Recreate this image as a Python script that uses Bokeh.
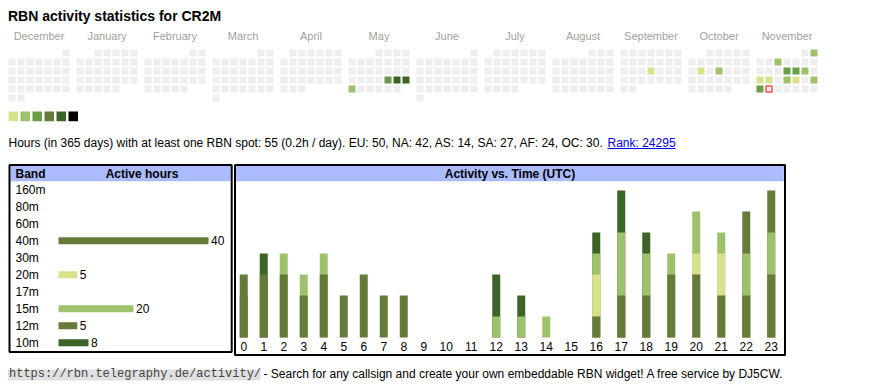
import datetime as dt
from bokeh.plotting import figure
from bokeh.models import Range1d, ColumnDataSource
from bokeh.layouts import column, row
from bokeh.embed import file_html
from bokeh.resources import INLINE
from bokeh.core.properties import value

SANS = value("Liberation Sans")
MONO = value("Liberation Mono")

# ------------------------------------------------------------------ data
callsign = "CR2M"

month_names = ["December", "January", "February", "March", "April", "May",
               "June", "July", "August", "September", "October", "November"]
month_years = [2024, 2025, 2025, 2025, 2025, 2025, 2025, 2025, 2025, 2025, 2025, 2025]
month_numbers = [12, 1, 2, 3, 4, 5, 6, 7, 8, 9, 10, 11]

active_dates = ["2025-05-23", "2025-05-24", "2025-05-25", "2025-05-26",
                "2025-09-18", "2025-10-14", "2025-10-16",
                "2025-11-02", "2025-11-05", "2025-11-13", "2025-11-14", "2025-11-15",
                "2025-11-17", "2025-11-18", "2025-11-20", "2025-11-21", "2025-11-23",
                "2025-11-24"]
active_levels = [3, 5, 5, 2,
                 1, 1, 2,
                 2, 2, 3, 3, 2,
                 1, 1, 2, 1, 2,
                 3]
today = "2025-11-25"

level_colors = ["#d9e18a", "#9dc26b", "#6a9f47", "#647b3a", "#3b6426", "#000000"]
empty_color = "#eeeeee"

stat_days = 365
stat_hours = 55
stat_per_day = 0.2
continents = ["EU", "NA", "AS", "SA", "AF", "OC"]
continent_hours = [50, 42, 14, 27, 24, 30]
rank = 24295

bands = ["160m", "80m", "60m", "40m", "30m", "20m", "17m", "15m", "12m", "10m"]
band_hours = [0, 0, 0, 40, 0, 5, 0, 20, 5, 8]
band_colors = ["#d9e18a", "#9dc26b", "#6a9f47", "#647b3a", "#3b6426",
               "#d9e18a", "#6a9f47", "#9dc26b", "#647b3a", "#3b6426"]

hours = [0, 1, 2, 3, 4, 5, 6, 7, 8, 9, 10, 11, 12, 13, 14, 15, 16, 17, 18, 19, 20, 21, 22, 23]
h_160m = [0, 0, 0, 0, 0, 0, 0, 0, 0, 0, 0, 0, 0, 0, 0, 0, 0, 0, 0, 0, 0, 0, 0, 0]
h_80m  = [0, 0, 0, 0, 0, 0, 0, 0, 0, 0, 0, 0, 0, 0, 0, 0, 0, 0, 0, 0, 0, 0, 0, 0]
h_60m  = [0, 0, 0, 0, 0, 0, 0, 0, 0, 0, 0, 0, 0, 0, 0, 0, 0, 0, 0, 0, 0, 0, 0, 0]
h_40m  = [2, 3, 3, 2, 3, 2, 3, 2, 2, 0, 0, 0, 0, 0, 0, 0, 1, 2, 2, 3, 3, 2, 2, 3]
h_30m  = [0, 0, 0, 0, 0, 0, 0, 0, 0, 0, 0, 0, 0, 0, 0, 0, 0, 0, 0, 0, 0, 0, 0, 0]
h_20m  = [0, 0, 0, 0, 0, 0, 0, 0, 0, 0, 0, 0, 0, 0, 0, 0, 2, 0, 0, 0, 1, 2, 0, 0]
h_17m  = [0, 0, 0, 0, 0, 0, 0, 0, 0, 0, 0, 0, 0, 0, 0, 0, 0, 0, 0, 0, 0, 0, 0, 0]
h_15m  = [0, 0, 1, 1, 1, 0, 0, 0, 0, 0, 0, 0, 1, 1, 1, 0, 1, 3, 2, 1, 2, 1, 2, 2]
h_12m  = [1, 0, 0, 0, 0, 0, 0, 0, 0, 0, 0, 0, 0, 0, 0, 0, 0, 0, 0, 0, 0, 0, 2, 2]
h_10m  = [0, 1, 0, 0, 0, 0, 0, 0, 0, 0, 0, 0, 2, 1, 0, 0, 1, 2, 1, 0, 0, 0, 0, 0]

footer_url = "https://rbn.telegraphy.de/activity/"
footer_text = "- Search for any callsign and create your own embeddable RBN widget! A free service by DJ5CW."

# ------------------------------------------------------------------ helpers
def blank(w, h, xr, yr):
    p = figure(width=w, height=h, x_range=xr, y_range=yr, output_backend="svg",
               toolbar_location=None, x_axis_type=None, y_axis_type=None,
               min_border=0)
    p.outline_line_color = None
    p.background_fill_color = "white"
    p.border_fill_color = "white"
    return p

MID = 0.35  # em-box middle above the alphabetic baseline (fraction of font size)

def txt(p, x, base_px, s, size=12, color="black", align="left", style="normal",
        font=SANS, ymap=lambda v: v):
    """Place a text with its alphabetic baseline at page-y base_px."""
    p.text(x=[x], y=[ymap(base_px - MID * size)], text=[s], text_font=font,
           text_font_size=f"{size}px", text_color=color, text_align=align,
           text_baseline="middle", text_font_style=style)

HEADER_BLUE = "#aabbff"
PAGE_W = 862
TOP_H = 163

# ------------------------------------------------------------------ top: title + calendar
top = blank(PAGE_W, TOP_H, Range1d(0, PAGE_W), Range1d(TOP_H, 0))
txt(top, 7.5, 20.7, f"RBN activity statistics for {callsign}", size=14, style="bold")

CELL, PITCH, MONTH_PITCH, CAL_X, CAL_Y = 7, 9, 68, 8, 49
level_of = {d: l for d, l in zip(active_dates, active_levels)}
cx, cy, cc = [], [], []
today_xy = None
for m, (yy, mm) in enumerate(zip(month_years, month_numbers)):
    first = dt.date(yy, mm, 1)
    nxt = dt.date(yy + (mm == 12), mm % 12 + 1, 1)
    d = first
    while d < nxt:
        r = (d.day - 1 + first.weekday()) // 7
        x = CAL_X + MONTH_PITCH * m + PITCH * d.weekday() + CELL / 2
        y = CAL_Y + PITCH * r + CELL / 2
        key = d.isoformat()
        cx.append(x); cy.append(y)
        cc.append(level_colors[level_of[key] - 1] if key in level_of else empty_color)
        if key == today:
            today_xy = (x, y)
        d += dt.timedelta(days=1)
    txt(top, CAL_X + MONTH_PITCH * m + (6 * PITCH + CELL) / 2, 39.2, month_names[m],
        size=11, color="#9f9f9f", align="center")
top.rect(x=cx, y=cy, width=CELL, height=CELL, fill_color=cc, line_color=None)
if today_xy:
    top.rect(x=[today_xy[0]], y=[today_xy[1]], width=CELL - 1, height=CELL - 1,
             fill_color=None, line_color="#ff0000", line_width=1)

# legend swatches
nl = len(level_colors)
top.quad(left=[8 + 12 * k for k in range(nl)], right=[8 + 12 * k + 9.5 for k in range(nl)],
         top=[111] * nl, bottom=[120.7] * nl, fill_color=level_colors, line_color=None)

stats = (f"Hours (in {stat_days} days) with at least one RBN spot: {stat_hours} "
         f"({stat_per_day}h / day). "
         + ", ".join(f"{c}: {v}" for c, v in zip(continents, continent_hours)) + ".")
txt(top, 8, 146.5, stats)
LINK_X = 607
txt(top, LINK_X, 146.5, f"Rank: {rank}", color="#0000ee")
top.segment(x0=[LINK_X], x1=[LINK_X + 68], y0=[148], y1=[148], line_color="#0000ee", line_width=1)

# ------------------------------------------------------------------ band table
BAND_PX0, BAND_SCALE = 58.0, 3.75   # page x of zero hours, px per hour
ROW0, ROWH = 189.2, 17.0            # page y of first row centre, row pitch
BW, BH = 233, 193
bx = lambda px: (px - BAND_PX0) / BAND_SCALE
by = lambda py: (py - ROW0) / ROWH
band = blank(BW, BH, Range1d(bx(0), bx(BW)), Range1d(by(TOP_H + BH), by(TOP_H)))
band.quad(left=[bx(10)], right=[bx(230.3)], top=[by(165.5)], bottom=[by(180.7)],
          fill_color=HEADER_BLUE, line_color=None)
band.quad(left=[bx(9)], right=[bx(231.2)], top=[by(164.4)], bottom=[by(351.4)],
          fill_color=None, line_color="black", line_width=2)
txt(band, bx(15), 177.5, "Band", style="bold", ymap=by)
txt(band, bx(141.5), 177.5, "Active hours", style="bold", align="center", ymap=by)
mid_off = (4.3 - MID * 12) / ROWH
band.text(x=[bx(15)] * len(bands), y=[i + mid_off for i in range(len(bands))], text=bands,
          text_font=SANS, text_font_size="12px", text_color="black",
          text_baseline="middle")
idx = [i for i, v in enumerate(band_hours) if v > 0]
bsrc = ColumnDataSource(dict(y=idx, right=[band_hours[i] for i in idx],
                             color=[band_colors[i] for i in idx],
                             ly=[i + mid_off for i in idx],
                             lx=[band_hours[i] + 2.5 / BAND_SCALE for i in idx],
                             lab=[str(band_hours[i]) for i in idx]))
band.hbar(y="y", left=0, right="right", height=7 / ROWH, fill_color="color",
          line_color=None, source=bsrc)
band.text(x="lx", y="ly", text="lab", source=bsrc, text_font=SANS, text_font_size="12px",
          text_color="black", text_baseline="middle")

# ------------------------------------------------------------------ activity vs time
AX, AW, AH = 233, 553, 193
ACT_X0 = 233.25          # page x of the first hour column's left edge
COLW_PX = 20.0           # px per column unit
BASE_Y, UNIT_PX = 337.0, 21.0
axd = lambda px: (px - ACT_X0) / COLW_PX
ayd = lambda py: (BASE_Y - py) / UNIT_PX
act = blank(AW, AH, Range1d(axd(AX), axd(AX + AW)), Range1d(ayd(TOP_H + AH), ayd(TOP_H)))
act.quad(left=[axd(235.5)], right=[axd(783.3)], top=[ayd(165.5)], bottom=[ayd(180.7)],
         fill_color=HEADER_BLUE, line_color=None)
act.quad(left=[axd(234.5)], right=[axd(784.5)], top=[ayd(164.4)], bottom=[ayd(354.6)],
         fill_color=None, line_color="black", line_width=2)
txt(act, axd(509.5), 177.5, "Activity vs. Time (UTC)", style="bold", align="center", ymap=ayd)

# column width follows the width of the hour label (one or two digits)
col_w = [0.75 + 0.25 * len(str(h)) for h in hours]
centers, acc = [], 0.0
for w in col_w:
    centers.append(acc + w / 2)
    acc += w
band_series = [h_160m, h_80m, h_60m, h_40m, h_30m, h_20m, h_17m, h_15m, h_12m, h_10m]
# stacked bars: cumulative tops, drawn from the top band down so segments join seamlessly
cum, tops = [0] * len(hours), []
for s in band_series:
    cum = [a + b for a, b in zip(cum, s)]
    tops.append(cum)
for k in range(len(bands) - 1, -1, -1):
    keep = [i for i in range(len(hours)) if band_series[k][i] > 0]
    if not keep:
        continue
    act.vbar(x=[centers[i] for i in keep], top=[tops[k][i] for i in keep], bottom=0,
             width=8 / COLW_PX, fill_color=band_colors[k], line_color=None)
act.text(x=centers, y=[ayd(350 - MID * 12)] * len(hours), text=[str(h) for h in hours],
         text_font=SANS, text_font_size="12px", text_color="black",
         text_align="center", text_baseline="middle")

# ------------------------------------------------------------------ footer
FY = TOP_H + AH
foot = blank(PAGE_W, 28, Range1d(0, PAGE_W), Range1d(FY + 28, FY))
foot.quad(left=[7.3], right=[260], top=[369], bottom=[380], fill_color="#e0e0e0", line_color=None)
txt(foot, 8.5, 377.5, footer_url, color="#444444", font=MONO)
txt(foot, 263, 377.5, footer_text)

layout = column(top, row(band, act), foot)
open("out.html", "w").write(file_html(layout, INLINE))
